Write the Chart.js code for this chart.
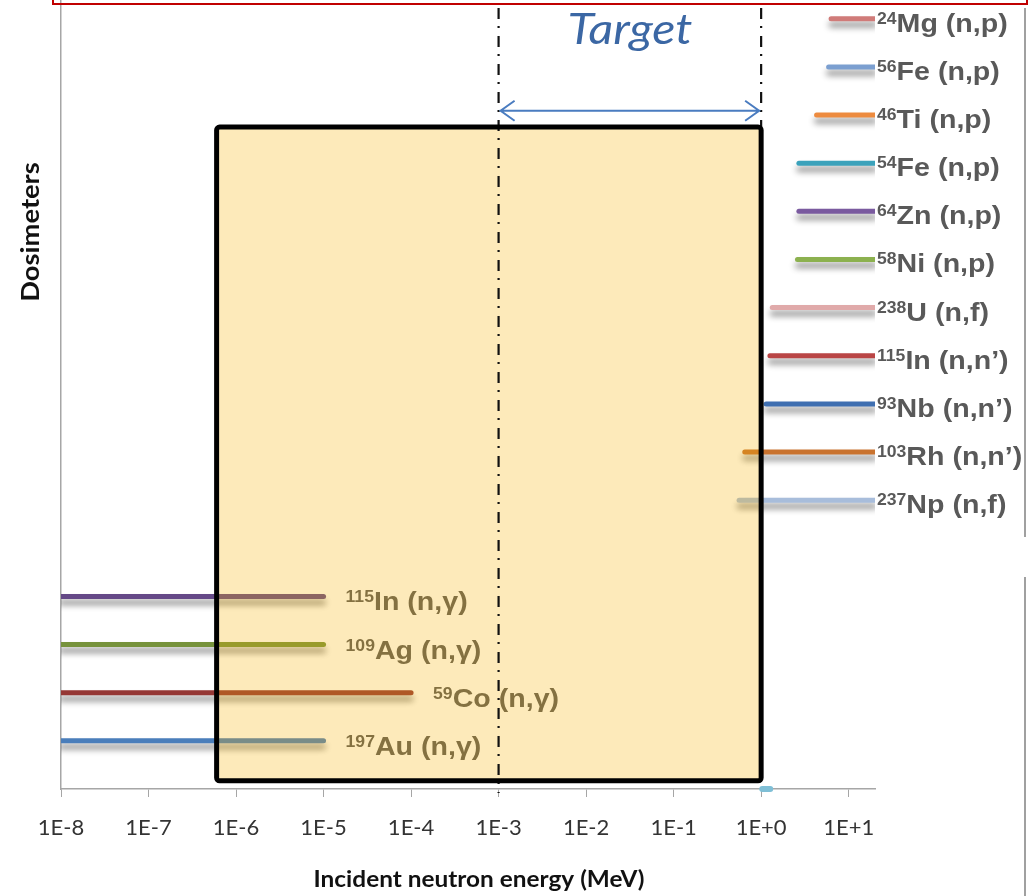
<!DOCTYPE html>
<html>
<head>
<meta charset="utf-8">
<script src="https://cdn.jsdelivr.net/npm/chart.js@4"></script>
<style>
  html, body { margin: 0; padding: 0; background: #fff; }
  #wrap { position: relative; width: 1030px; height: 896px; }
</style>
</head>
<body>
<div id="wrap"><canvas id="dosimeterChart" width="1030" height="896"></canvas></div>
<script>
// threshold reactions (fast neutrons), energy range in MeV
const fastMass = ['24', '56', '46', '54', '64', '58', '238', '115', '93', '103', '237'];
const fastElement = ['Mg', 'Fe', 'Ti', 'Fe', 'Zn', 'Ni', 'U', 'In', 'Nb', 'Rh', 'Np'];
const fastReaction = ['(n,p)', '(n,p)', '(n,p)', '(n,p)', '(n,p)', '(n,p)', '(n,f)', '(n,n’)', '(n,n’)', '(n,n’)', '(n,f)'];
const fastLow = [6.3, 5.9, 4.3, 2.7, 2.7, 2.6, 1.34, 1.26, 1.14, 0.65, 0.56];
const fastHigh = [20, 20, 20, 20, 20, 20, 20, 20, 20, 20, 20];
const fastRow = [16, 15, 14, 13, 12, 11, 10, 9, 8, 7, 6];
const fastColors = ['#d07b79', '#7b9fd0', '#ed8b3f', '#3ba2bb', '#7a5a9f', '#8cb14f',
                    '#e0aaaa', '#b94545', '#3f6fb1', '#c9732f', '#a8bddb'];

// capture reactions (thermal / epithermal)
const capMass = ['115', '109', '59', '197'];
const capElement = ['In', 'Ag', 'Co', 'Au'];
const capReaction = ['(n,γ)', '(n,γ)', '(n,γ)', '(n,γ)'];
const capLow = [1e-8, 1e-8, 1e-8, 1e-8];
const capHigh = [1e-5, 1e-5, 1e-4, 1e-5];
const capRow = [4, 3, 2, 1];
const capColors = ['#654987', '#77933c', '#953735', '#4a7ebb'];

// small marker sitting on the energy axis
const markerRange = [1.03, 1.27];

const decadeTicks = [1e-8, 1e-7, 1e-6, 1e-5, 1e-4, 1e-3, 1e-2, 1e-1, 1e0, 1e1];
const tickLabels = ['1E-8', '1E-7', '1E-6', '1E-5', '1E-4', '1E-3', '1E-2', '1E-1', '1E+0', '1E+1'];

// cadmium cut-off to 1 MeV shaded window, and the target band
const cdCutoff = 6.0e-7;
const boxRows = [0.17, 13.75];
const targetRange = [1e-3, 1];
const arrowRow = 14.09;
const targetTextRow = 15.76;

const datasets = [];
fastLow.forEach((lo, i) => {
    datasets.push({
        data: [{ x: lo, y: fastRow[i] }, { x: fastHigh[i], y: fastRow[i] }],
        borderColor: fastColors[i],
        borderWidth: 5,
        borderCapStyle: 'round',
        pointRadius: 0,
        shadow: true
    });
});
capLow.forEach((lo, i) => {
    datasets.push({
        data: [{ x: lo, y: capRow[i] }, { x: capHigh[i], y: capRow[i] }],
        borderColor: capColors[i],
        borderWidth: 5,
        borderCapStyle: 'round',
        pointRadius: 0,
        shadow: true
    });
});
datasets.push({
    data: [{ x: markerRange[0], y: 0 }, { x: markerRange[1], y: 0 }],
    borderColor: '#7fbfd6',
    borderWidth: 6,
    borderCapStyle: 'round',
    pointRadius: 0,
    clip: false
});

// soft grey drop shadow under the reaction bars
const lineShadow = {
    id: 'lineShadow',
    beforeDatasetDraw(chart, args) {
        if (chart.data.datasets[args.index].shadow) {
            const ctx = chart.ctx;
            ctx.save();
            ctx.shadowColor = 'rgba(0,0,0,0.45)';
            ctx.shadowBlur = 6;
            ctx.shadowOffsetY = 6;
        }
    },
    afterDatasetDraw(chart, args) {
        if (chart.data.datasets[args.index].shadow) chart.ctx.restore();
    }
};

function wideText(ctx, text, x, y, sx) {
    ctx.save();
    ctx.translate(x, y);
    ctx.scale(sx, 1);
    ctx.fillText(text, 0, 0);
    ctx.restore();
    return ctx.measureText(text).width * sx;
}

function reactionLabel(ctx, x, y, mass, element, reaction) {
    ctx.fillStyle = '#595959';
    ctx.textAlign = 'left';
    ctx.textBaseline = 'alphabetic';
    ctx.font = 'bold 16px "Liberation Sans", Arial, sans-serif';
    const w = wideText(ctx, mass, x, y - 8, 1.1);
    ctx.font = 'bold 26px "Liberation Sans", Arial, sans-serif';
    wideText(ctx, element + ' ' + reaction, x + w, y, 1.1);
}

const annotations = {
    id: 'annotations',
    afterDatasetsDraw(chart) {
        const ctx = chart.ctx;
        const xs = chart.scales.x, ys = chart.scales.y;

        // reaction labels
        fastMass.forEach((m, i) => {
            reactionLabel(ctx, xs.getPixelForValue(fastHigh[i]) + 2, ys.getPixelForValue(fastRow[i]) + 13,
                m, fastElement[i], fastReaction[i]);
        });
        capMass.forEach((m, i) => {
            reactionLabel(ctx, xs.getPixelForValue(capHigh[i]) + 22, ys.getPixelForValue(capRow[i]) + 14,
                m, capElement[i], capReaction[i]);
        });

        const left = xs.getPixelForValue(cdCutoff);
        const right = xs.getPixelForValue(targetRange[1]);
        const top = ys.getPixelForValue(boxRows[1]);
        const bottom = ys.getPixelForValue(boxRows[0]);

        // translucent yellow window
        ctx.save();
        ctx.fillStyle = 'rgba(247,178,0,0.27)';
        ctx.beginPath();
        ctx.roundRect(left, top, right - left, bottom - top, 3);
        ctx.fill();

        // target band limits (dash-dot)
        const tx0 = xs.getPixelForValue(targetRange[0]);
        const tx1 = xs.getPixelForValue(targetRange[1]);
        ctx.strokeStyle = '#111';
        ctx.lineWidth = 2.2;
        ctx.setLineDash([11, 7, 2, 8]);
        ctx.beginPath();
        ctx.moveTo(tx0, 8); ctx.lineTo(tx0, ys.getPixelForValue(0) + 4);
        ctx.moveTo(tx1, 8); ctx.lineTo(tx1, top);
        ctx.stroke();
        ctx.setLineDash([]);

        // window border
        ctx.strokeStyle = '#000';
        ctx.lineWidth = 5;
        ctx.beginPath();
        ctx.roundRect(left, top, right - left, bottom - top, 3);
        ctx.stroke();

        // double-headed arrow
        const ay = ys.getPixelForValue(arrowRow);
        ctx.strokeStyle = '#4a7cc0';
        ctx.lineWidth = 2;
        ctx.beginPath();
        ctx.moveTo(tx0 + 1, ay); ctx.lineTo(tx1 - 1, ay);
        ctx.moveTo(tx0 + 16, ay - 10); ctx.lineTo(tx0 + 2, ay); ctx.lineTo(tx0 + 16, ay + 10);
        ctx.moveTo(tx1 - 16, ay - 10); ctx.lineTo(tx1 - 2, ay); ctx.lineTo(tx1 - 16, ay + 10);
        ctx.stroke();

        ctx.fillStyle = '#3b67a4';
        ctx.font = 'italic 42px Lato, sans-serif';
        ctx.textAlign = 'center';
        ctx.textBaseline = 'middle';
        ctx.save();
        ctx.translate(xs.getPixelForValue(Math.sqrt(targetRange[0] * targetRange[1])), ys.getPixelForValue(targetTextRow));
        ctx.scale(1.15, 1);
        ctx.fillText('Target', 0, 0);
        ctx.restore();
        ctx.restore();
    },
    afterDraw(chart) {
        const ctx = chart.ctx;
        ctx.save();
        // axis titles
        ctx.fillStyle = '#111';
        ctx.font = 'bold 23px Lato, sans-serif';
        ctx.textAlign = 'center';
        ctx.textBaseline = 'middle';
        ctx.save();
        ctx.translate(479, 880);
        ctx.scale(1.06, 1);
        ctx.fillText('Incident neutron energy (MeV)', 0, 0);
        ctx.restore();
        ctx.save();
        ctx.translate(31, 232);
        ctx.rotate(-Math.PI / 2);
        ctx.font = 'bold 24px Lato, sans-serif';
        ctx.scale(1.14, 1);
        ctx.fillText('Dosimeters', 0, 0);
        ctx.restore();

        // surrounding frame pieces
        ctx.strokeStyle = '#c00000';
        ctx.lineWidth = 2;
        ctx.strokeRect(53, -10, 974, 14);
        ctx.strokeStyle = '#a0a0a0';
        ctx.lineWidth = 2;
        ctx.beginPath();
        ctx.moveTo(1025, 8); ctx.lineTo(1025, 537);
        ctx.moveTo(1025, 577); ctx.lineTo(1025, 896);
        ctx.stroke();
        ctx.restore();
    }
};

const ctx = document.getElementById('dosimeterChart').getContext('2d');
new Chart(ctx, {
    type: 'line',
    data: { datasets: datasets },
    options: {
        responsive: false,
        animation: false,
        events: [],
        layout: { padding: { left: 0, right: 155, top: 0, bottom: 0 } },
        plugins: { legend: { display: false }, tooltip: { enabled: false } },
        scales: {
            x: {
                type: 'logarithmic',
                min: 1e-8,
                max: 20,
                afterBuildTicks: scale => { scale.ticks = decadeTicks.map(v => ({ value: v })); },
                afterFit: scale => { scale.height = 107; },
                ticks: {
                    autoSkip: false,
                    maxRotation: 0,
                    padding: 18,
                    color: '#333',
                    font: { family: 'Lato', size: 22 },
                    callback: (v, i) => tickLabels[i]
                },
                grid: { drawOnChartArea: false, drawTicks: true, tickLength: 8, color: '#a6a6a6' },
                border: { color: '#a6a6a6', width: 1.5 }
            },
            y: {
                type: 'linear',
                min: 0,
                max: 16.39,
                afterFit: scale => { scale.width = 61; },
                ticks: { display: false },
                grid: { display: false },
                border: { color: '#a6a6a6', width: 1.5 }
            }
        }
    },
    plugins: [lineShadow, annotations]
});
</script>
</body>
</html>
